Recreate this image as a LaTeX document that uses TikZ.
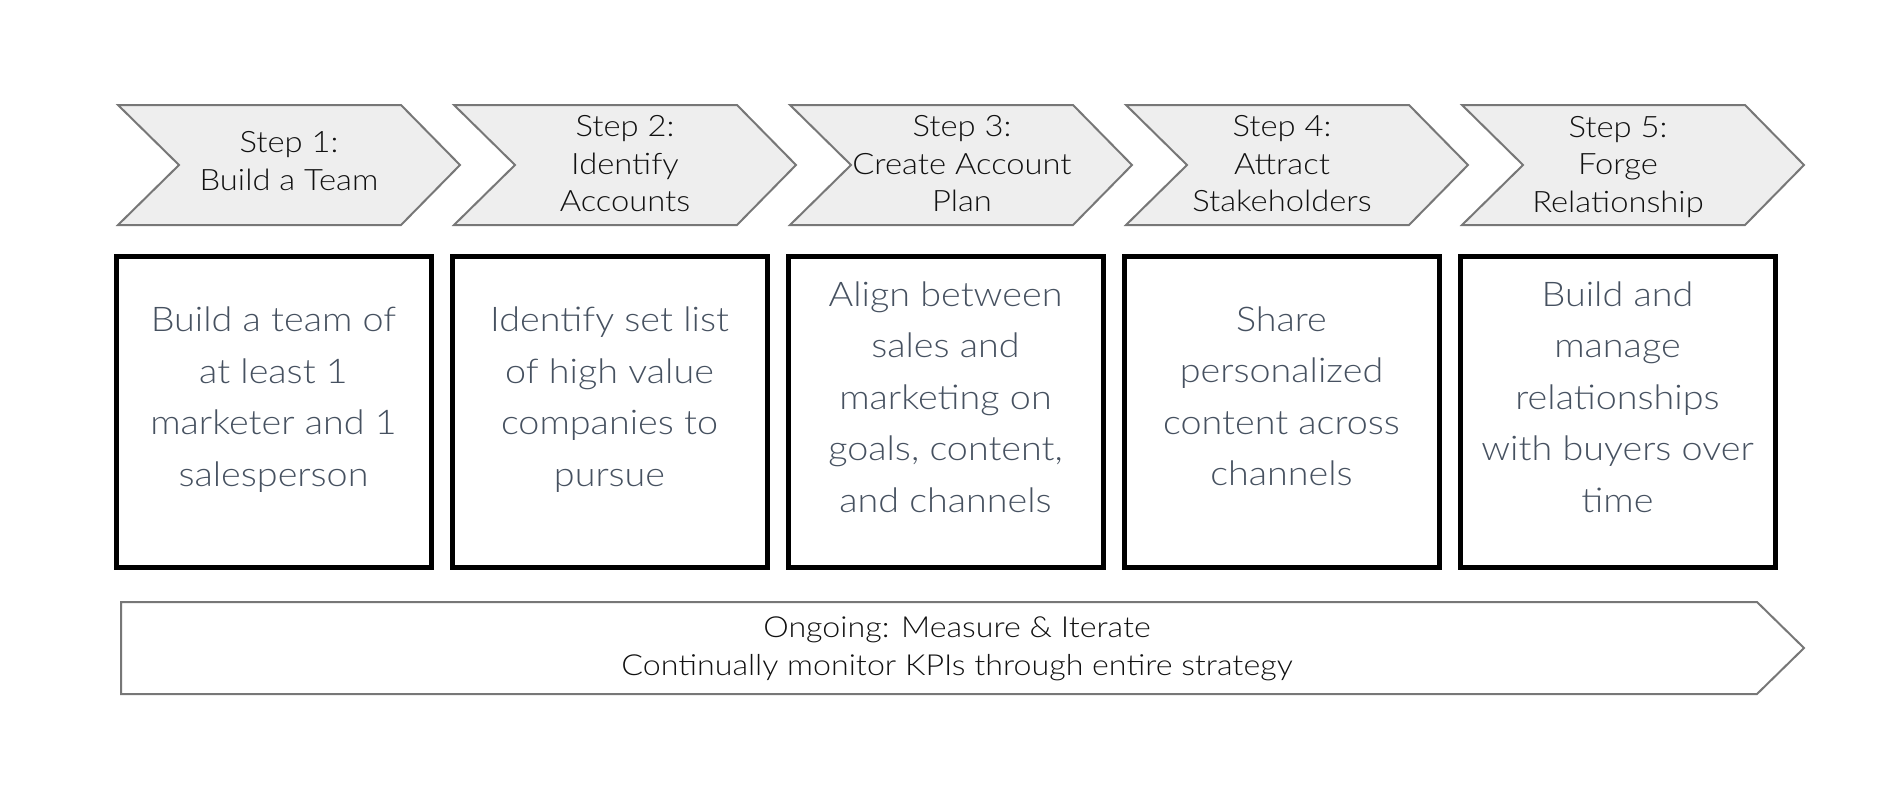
\documentclass[tikz,border=0pt]{standalone}
\usepackage{fontspec}
\setmainfont{Lato}[UprightFont={* Light}]
\newfontfamily\widefont{Lato}[UprightFont={* Light},FakeStretch=1.11]
\definecolor{chevfill}{HTML}{EEEEEE}
\definecolor{chevline}{HTML}{777777}
\definecolor{cardtxt}{HTML}{465160}
\definecolor{steptxt}{HTML}{111111}
\begin{document}
\begin{tikzpicture}[x=1pt,y=-1pt,
  chev/.style={fill=chevfill,draw=chevline,line width=2pt,line join=miter},
  steplabel/.style={align=center,text=steptxt,font=\widefont\fontsize{29.5}{37.5}\selectfont,inner sep=0pt},
  card/.style={draw=black,line width=5pt,minimum width=315pt,minimum height=311pt,inner sep=0pt},
  cardlabel/.style={align=center,text=cardtxt,font=\widefont\fontsize{34}{51.5}\selectfont,inner sep=0pt},
  ongoing/.style={fill=white,draw=chevline,line width=2pt},
  ongoinglabel/.style={align=center,text=steptxt,font=\widefont\fontsize{29}{37.5}\selectfont,inner sep=0pt}]
\useasboundingbox (0,0) rectangle (1900,800);
% chevrons
\foreach \i in {0,...,4}{
  \pgfmathsetmacro{\L}{118+336*\i}
  \draw[chev] (\L,105) -- ({\L+283},105) -- ({\L+342},165) -- ({\L+283},225) -- (\L,225) -- ({\L+61},165) -- cycle;
}
\node[steplabel] (s1) at (289,161) {Step 1:\\Build a Team};
\node[steplabel] (s2) at (625,164) {Step 2:\\Identify\\Accounts};
\node[steplabel] (s3) at (962,164) {Step 3:\\Create Account\\Plan};
\node[steplabel] (s4) at (1282,164) {Step 4:\\Attract\\Stakeholders};
\node[steplabel] (s5) at (1618,167) {Step 5:\\Forge\\Relationship};
% cards
\node[card] (b1) at (273.5,411.5) {};
\node[card] (b2) at (609.5,411.5) {};
\node[card] (b3) at (945.5,411.5) {};
\node[card] (b4) at (1281.5,411.5) {};
\node[card] (b5) at (1617.5,411.5) {};
\node[cardlabel] (t1) at ([yshift=12pt]b1.center) {Build a team of\\at least 1\\marketer and 1\\salesperson};
\node[cardlabel] (t2) at ([yshift=12pt]b2.center) {Identify set list\\of high value\\companies to\\pursue};
\node[cardlabel] (t3) at ([yshift=14.5pt]b3.center) {Align between\\sales and\\marketing on\\goals, content,\\and channels};
\node[cardlabel] (t4) at ([yshift=15pt]b4.center) {Share\\personalized\\content across\\channels};
\node[cardlabel] (t5) at ([yshift=14.5pt]b5.center) {Build and\\manage\\relationships\\with buyers over\\time};
% ongoing arrow
\draw[ongoing] (121,602) -- (1757,602) -- (1804,648) -- (1757,694) -- (121,694) -- cycle;
\node[ongoinglabel] (og) at (957,649) {Ongoing: Measure \& Iterate\\Continually monitor KPIs through entire strategy};
\end{tikzpicture}
\end{document}
